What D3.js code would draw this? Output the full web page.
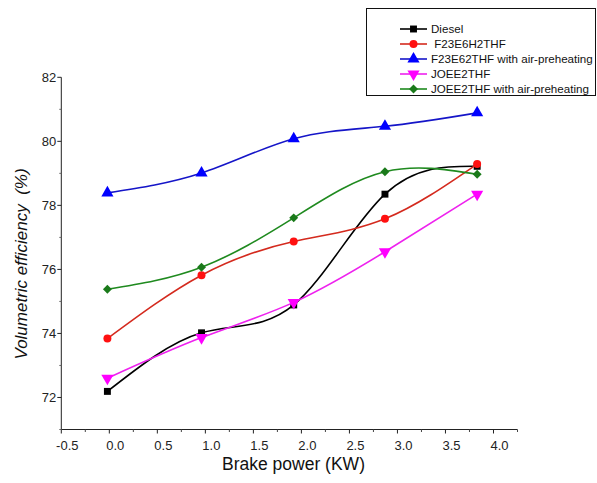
<!DOCTYPE html>
<html>
<head>
<meta charset="utf-8">
<script src="https://cdn.jsdelivr.net/npm/d3@7"></script>
<style>
  body { margin: 0; background: #fff; }
  svg { font-family: "Liberation Sans", Arial, sans-serif; }
</style>
</head>
<body>
<div id="chart"></div>
<script>
// brake power readings (KW)
var power = [-0.02, 0.96, 1.92, 2.87, 3.83];

var diesel = [72.19, 74.02, 74.89, 78.35, 79.22];
var f23e6h2thf = [73.84, 75.82, 76.87, 77.58, 79.29];
var f23e62thfHeat = [78.39, 79.01, 80.08, 80.47, 80.89];
var joee2thf = [72.6, 73.87, 74.97, 76.55, 78.35];
var joee2thfHeat = [75.38, 76.07, 77.61, 79.05, 78.97];

var xTicks = [-0.5, 0.0, 0.5, 1.0, 1.5, 2.0, 2.5, 3.0, 3.5, 4.0];
var yTicks = [72, 74, 76, 78, 80, 82];

var seriesNames = ["Diesel", " F23E6H2THF", "F23E62THF with air-preheating", "JOEE2THF", "JOEE2THF with air-preheating"];
var seriesData = [diesel, f23e6h2thf, f23e62thfHeat, joee2thf, joee2thfHeat];
var lineColors = ["#000000", "#d42a1e", "#1515c8", "#ee22ee", "#1f8a1f"];
var markColors = ["#000000", "#ff1010", "#0000ff", "#ff00ff", "#1a7a1a"];
var markShapes = [d3.symbolSquare, d3.symbolCircle, d3.symbolTriangle, d3.symbolTriangle, d3.symbolSquare];
var markSizes = [48, 50, 64, 64, 40];
var markRotate = [0, 0, 0, 180, 45];

var W = 597, H = 483;
var svg = d3.select("#chart").append("svg")
  .attr("width", W).attr("height", H);

var x = d3.scaleLinear().domain([-0.5, 4.25]).range([61.3, 517.5]);
var y = d3.scaleLinear().domain([71, 82]).range([429.5, 77.3]);

// x axis
var xAxis = svg.append("g").attr("transform", "translate(0," + y(71) + ")");
xAxis.append("line").attr("x1", x(-0.5)).attr("x2", x(4.25)).attr("stroke", "#222");
xAxis.selectAll(".minor").data(d3.range(-0.25, 4.3, 0.5))
  .enter().append("line")
  .attr("x1", d => x(d)).attr("x2", d => x(d))
  .attr("y1", 0).attr("y2", 2.5).attr("stroke", "#444");
xAxis.selectAll(".major").data(xTicks)
  .enter().append("line")
  .attr("x1", d => x(d)).attr("x2", d => x(d))
  .attr("y1", 0).attr("y2", 4).attr("stroke", "#222");
xAxis.selectAll("text").data(xTicks)
  .enter().append("text")
  .attr("x", d => x(d) + 6).attr("y", 20)
  .attr("text-anchor", "middle").attr("font-size", 13).attr("fill", "#222")
  .text(d => d.toFixed(1));

svg.append("text")
  .attr("x", 293.5).attr("y", 470)
  .attr("text-anchor", "middle").attr("font-size", 17.5).attr("fill", "#111")
  .text("Brake power (KW)");

// y axis
var yAxis = svg.append("g").attr("transform", "translate(" + x(-0.5) + ",0)");
yAxis.append("line").attr("y1", y(71)).attr("y2", y(82)).attr("stroke", "#222");
yAxis.selectAll(".minor").data(d3.range(71, 82, 2))
  .enter().append("line")
  .attr("y1", d => y(d)).attr("y2", d => y(d))
  .attr("x1", -2).attr("x2", 0).attr("stroke", "#666");
yAxis.selectAll(".major").data(yTicks)
  .enter().append("line")
  .attr("y1", d => y(d)).attr("y2", d => y(d))
  .attr("x1", -4).attr("x2", 0).attr("stroke", "#222");
yAxis.selectAll("text").data(yTicks)
  .enter().append("text")
  .attr("x", -5).attr("y", d => y(d) + 4.5)
  .attr("text-anchor", "end").attr("font-size", 13).attr("fill", "#222")
  .text(d => d);

svg.append("text")
  .attr("transform", "translate(27,264) rotate(-90)")
  .attr("text-anchor", "middle").attr("font-size", 17).attr("font-style", "italic").attr("fill", "#111")
  .attr("xml:space", "preserve").style("white-space", "pre")
  .text("Volumetric efficiency  (%)");

// series
var line = d3.line()
  .x((d, i) => x(power[i]))
  .y(d => y(d))
  .curve(d3.curveNatural);

seriesData.forEach(function (vals, k) {
  svg.append("path")
    .attr("d", line(vals))
    .attr("fill", "none")
    .attr("stroke", lineColors[k])
    .attr("stroke-width", 1.6);
  svg.selectAll(".m" + k).data(vals)
    .enter().append("path")
    .attr("d", d3.symbol().type(markShapes[k]).size(markSizes[k]))
    .attr("transform", (d, i) => "translate(" + x(power[i]) + "," + y(d) + ") rotate(" + markRotate[k] + ")")
    .attr("fill", markColors[k]);
});

// legend
var lg = svg.append("g");
lg.append("rect")
  .attr("x", 366.5).attr("y", 8.5).attr("width", 229).attr("height", 87)
  .attr("fill", "#fff").attr("stroke", "#111");
seriesNames.forEach(function (name, k) {
  var ly = 29 + k * 15;
  lg.append("line")
    .attr("x1", 400).attr("x2", 427).attr("y1", ly).attr("y2", ly)
    .attr("stroke", lineColors[k]).attr("stroke-width", 1.6);
  lg.append("path")
    .attr("d", d3.symbol().type(markShapes[k]).size(markSizes[k]))
    .attr("transform", "translate(413.5," + ly + ") rotate(" + markRotate[k] + ")")
    .attr("fill", markColors[k]);
  lg.append("text")
    .attr("x", 431).attr("y", ly + 4)
    .attr("font-size", 11.6).attr("fill", "#111")
    .attr("xml:space", "preserve").style("white-space", "pre")
    .text(name);
});
</script>
</body>
</html>
